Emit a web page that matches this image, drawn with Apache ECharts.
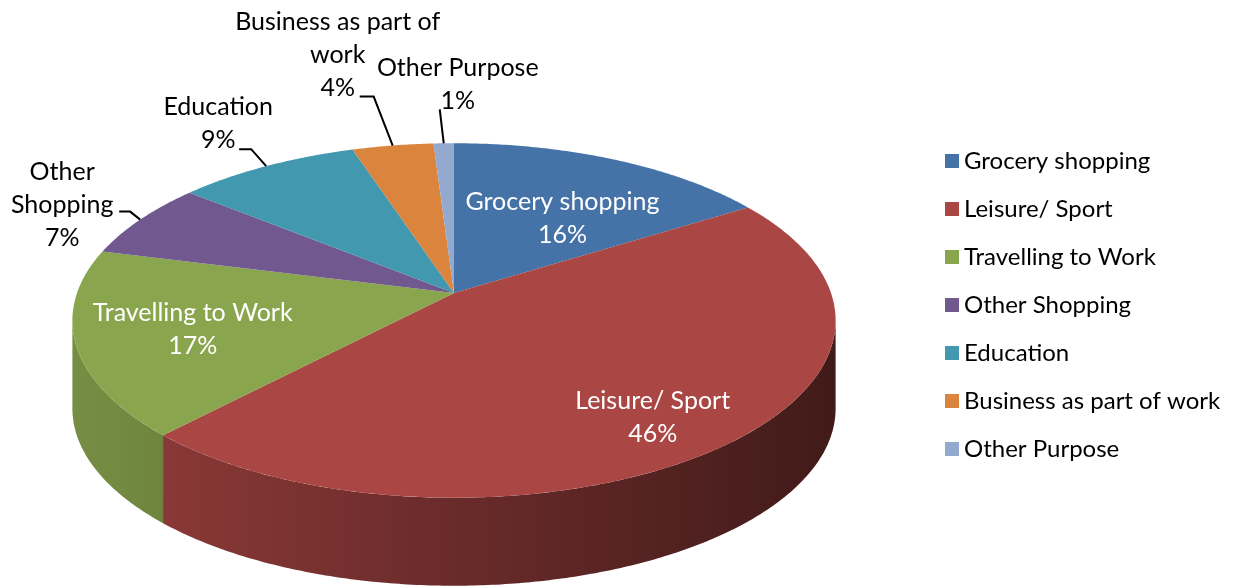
<!DOCTYPE html>
<html lang="en">
<head>
    <meta charset="UTF-8">
    <title>3D pie</title>
    <script src="https://cdn.jsdelivr.net/npm/echarts@6/dist/echarts.min.js"></script>
    <style>
        html, body { margin: 0; padding: 0; background: #fff; }
        #box { width: 1239px; height: 588px; }
    </style>
</head>
<body>
<div id="box"></div>
<script>
    // data
    var categories = ['Grocery shopping', 'Leisure/ Sport', 'Travelling to Work', 'Other Shopping',
        'Education', 'Business as part of work', 'Other Purpose'];
    var values = [16, 46, 17, 7, 9, 4, 1];
    // how Excel wrapped the label text
    var labelNames = ['Grocery shopping', 'Leisure/ Sport', 'Travelling to Work', 'Other\nShopping',
        'Education', 'Business as part of\nwork', 'Other Purpose'];

    var colors = ['#4572A7', '#AA4643', '#89A54E', '#71588F', '#4198AF', '#DB843D', '#93A9CF'];

    // label placement: inside -> fraction of radius + nudge, outside -> offsets from the rim point
    var labelLayout = [
        {inside: true, r: 0.65, dx: 0, dy: 16},
        {inside: true, r: 0.78, dx: -8, dy: 10},
        {inside: true, r: 0.70, dx: 0, dy: 2},
        {inside: false, text: [-78, -15], leader: [[-10, -8], [-21, -8]]},
        {inside: false, text: [-48, -43], leader: [[-15, -17], [-27, -17]]},
        {inside: false, text: [-55, -91], leader: [[-19, -49], [-33, -49]]},
        {inside: false, text: [14, -59], leader: [[-4, -34]]}
    ];

    // projection of the tilted disc
    var CX = 454, CY = 293, RX = 377, RY = 173, K = 0.155, DEPTH = 88;
    var FONT = 'Lato, "Open Sans", sans-serif';

    var total = 0;
    values.forEach(function (v) { total += v; });
    var starts = [];
    var acc = 0;
    values.forEach(function (v) { starts.push(acc); acc += v; });

    function proj(theta, r) {
        var s = Math.sin(theta), c = Math.cos(theta);
        var d = 1 + K * r * c;
        return [CX + RX * r * s / d, CY - RY * r * c / d];
    }

    function shade(hex, f) {
        var n = parseInt(hex.slice(1), 16);
        var r = Math.round(((n >> 16) & 255) * f);
        var g = Math.round(((n >> 8) & 255) * f);
        var b = Math.round((n & 255) * f);
        return 'rgb(' + r + ',' + g + ',' + b + ')';
    }

    // side wall is visible between the two widest points of the rim
    var FRONT_A = Math.acos(-K);
    var FRONT_B = 2 * Math.PI - FRONT_A;

    function renderItem(params, api) {
        var idx = params.seriesIndex;
        var a0 = api.value(0) / total * 2 * Math.PI;
        var a1 = (api.value(0) + api.value(1)) / total * 2 * Math.PI;
        var color = colors[idx];
        var children = [];
        var i, n, t;

        // top face
        var pts = [[CX, CY]];
        n = Math.max(4, Math.ceil((a1 - a0) / 0.01));
        for (i = 0; i <= n; i++) {
            t = a0 + (a1 - a0) * i / n;
            pts.push(proj(t, 1));
        }
        children.push({type: 'polygon', z2: 10, shape: {points: pts}, style: {fill: color}});

        // side wall
        var s0 = Math.max(a0, FRONT_A), s1 = Math.min(a1, FRONT_B);
        if (s1 > s0) {
            var top = [], bottom = [];
            n = Math.max(4, Math.ceil((s1 - s0) / 0.01));
            for (i = 0; i <= n; i++) {
                t = s0 + (s1 - s0) * i / n;
                var p = proj(t, 1);
                top.push(p);
                bottom.unshift([p[0], p[1] + DEPTH]);
            }
            children.push({
                type: 'polygon', z2: 1,
                shape: {points: top.concat(bottom)},
                style: {
                    fill: {
                        type: 'linear', global: true,
                        x: CX - RX, y: 0, x2: CX + RX + 4, y2: 0,
                        colorStops: [
                            {offset: 0, color: shade(color, 0.86)},
                            {offset: 0.5, color: shade(color, 0.62)},
                            {offset: 1, color: shade(color, 0.38)}
                        ]
                    }
                }
            });
        }

        // label
        var mid = (a0 + a1) / 2;
        var lay = labelLayout[idx];
        var txt = labelNames[idx] + '\n' + api.value(1) + '%';
        if (lay.inside) {
            var q = proj(mid, lay.r);
            children.push({
                type: 'text', z2: 30,
                style: {
                    text: txt, x: q[0] + lay.dx, y: q[1] + lay.dy,
                    fill: '#fff', font: '25px ' + FONT, lineHeight: 33,
                    align: 'center', verticalAlign: 'middle'
                }
            });
        } else {
            var rim = proj(mid, 1);
            var line = [rim];
            lay.leader.forEach(function (o) { line.push([rim[0] + o[0], rim[1] + o[1]]); });
            children.push({
                type: 'polyline', z2: 30,
                shape: {points: line},
                style: {stroke: '#000', lineWidth: 2, fill: null}
            });
            children.push({
                type: 'text', z2: 30,
                style: {
                    text: txt, x: rim[0] + lay.text[0], y: rim[1] + lay.text[1],
                    fill: '#000', font: '25px ' + FONT, lineHeight: 33,
                    align: 'center', verticalAlign: 'middle'
                }
            });
        }
        return {type: 'group', children: children};
    }

    var series = categories.map(function (name, i) {
        return {
            name: name,
            type: 'custom',
            coordinateSystem: 'none',
            color: colors[i],
            silent: true,
            renderItem: renderItem,
            data: [[starts[i], values[i]]]
        };
    });

    var myChart = echarts.init(document.getElementById('box'));
    var option = {
        animation: false,
        backgroundColor: '#fff',
        legend: {
            orient: 'vertical',
            left: 940,
            top: 142,
            icon: 'rect',
            itemWidth: 14,
            itemHeight: 14,
            itemGap: 20,
            selectedMode: false,
            textStyle: {fontFamily: FONT, fontSize: 24, lineHeight: 28, color: '#000'},
            data: categories
        },
        series: series
    };
    myChart.setOption(option);
</script>
</body>
</html>
